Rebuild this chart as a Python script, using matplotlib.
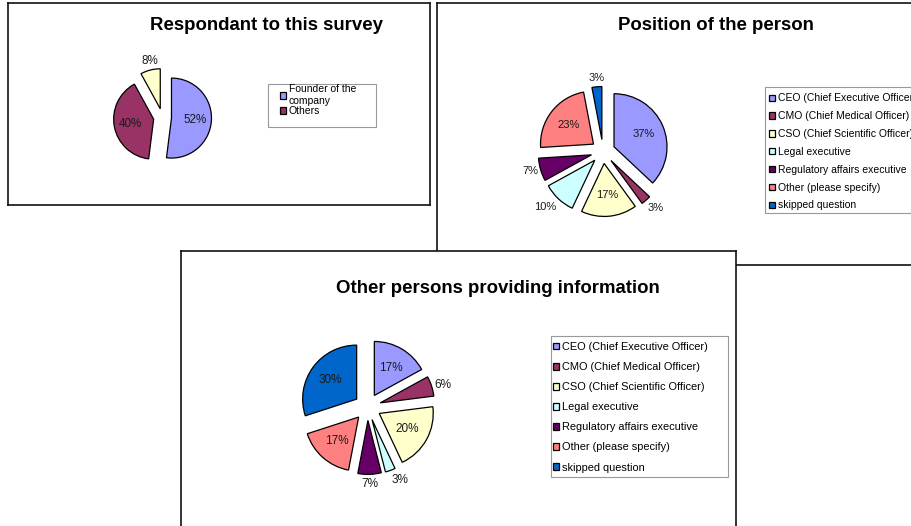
import numpy as np
import matplotlib
matplotlib.use("Agg")
import matplotlib.pyplot as plt
from matplotlib.patches import Rectangle

plt.rcParams['font.family'] = ['Liberation Sans', 'DejaVu Sans']

# ---- data ----
resp_values = [52, 40, 8]
resp_labels = ["Founder of the\ncompany", "Others"]
resp_colors = ["#9999FF", "#993366", "#FFFFCC"]

roles = ["CEO (Chief Executive Officer)", "CMO (Chief Medical Officer)",
         "CSO (Chief Scientific Officer)", "Legal executive",
         "Regulatory affairs executive", "Other (please specify)",
         "skipped question"]
role_colors = ["#9999FF", "#993366", "#FFFFCC", "#CCFFFF",
               "#660066", "#FF8080", "#0066CC"]
position_values = [37, 3, 17, 10, 7, 23, 3]
others_values = [17, 6, 20, 3, 7, 17, 30]

W, H = 912, 526
fig = plt.figure(figsize=(W / 100, H / 100), dpi=100)


def panel(x0, y0, x1, y1):
    # axes whose data units are figure pixels (y going up)
    ax = fig.add_axes([x0 / W, 1 - y1 / H, (x1 - x0) / W, (y1 - y0) / H])
    ax.set_facecolor("white")
    ax.set_xticks([])
    ax.set_yticks([])
    for s in ax.spines.values():
        s.set_linewidth(1.2)
        s.set_color("#111111")
    return ax, (x0, x1, H - y1, H - y0)


def draw_pie(ax, lims, values, colors, cx, cy, r, d, inside, fs):
    wedges, _ = ax.pie(values, colors=colors, startangle=90, counterclock=False,
                       center=(cx, H - cy), radius=r, explode=[d] * len(values),
                       frame=True,
                       wedgeprops=dict(edgecolor="black", linewidth=0.9))
    for w, v, inn in zip(wedges, values, inside):
        th = np.deg2rad((w.theta1 + w.theta2) / 2)
        c, s = np.cos(th), np.sin(th)
        x0, y0 = w.center
        if inn:
            ax.text(x0 + 0.6 * r * c, y0 + 0.6 * r * s, f"{v}%", fontsize=fs,
                    ha="center", va="center", color="#1a1a1a")
        else:
            ha = "left" if c > 0.3 else ("right" if c < -0.3 else "center")
            va = "bottom" if s > 0.5 else ("top" if s < -0.5 else "center")
            ax.text(x0 + 1.05 * r * c, y0 + 1.07 * r * s, f"{v}%", fontsize=fs,
                    ha=ha, va=va, color="#1a1a1a")
    ax.set_xlim(lims[0], lims[1])
    ax.set_ylim(lims[2], lims[3])
    ax.set_aspect("auto")
    ax.set_xticks([])
    ax.set_yticks([])
    ax.set_frame_on(True)
    return wedges


def legend_box(ax, x0, y0, x1, y1):
    ax.add_patch(Rectangle((x0, H - y1), x1 - x0, y1 - y0, fill=False,
                           edgecolor="#999999", linewidth=0.8, zorder=4))


def legend(ax, handles, labels, x, y, fs, spacing):
    ax.legend(handles, labels, loc="upper left",
              bbox_to_anchor=(x / W, 1 - y / H), bbox_transform=fig.transFigure,
              frameon=False, fontsize=fs, handlelength=0.55, handleheight=0.55,
              handletextpad=0.3, labelspacing=spacing, borderpad=0,
              borderaxespad=0)


# ---- panel 1 ----
ax1, l1 = panel(8, 3, 430, 205)
ax1.text(266.7, H - 25, "Respondant to this survey", fontsize=13.4,
         fontweight="bold", ha="center", va="center")
w1 = draw_pie(ax1, l1, resp_values, resp_colors, 162.5, 117.5, 40, 9,
              [True, True, False], 8.4)
legend_box(ax1, 268, 84, 376, 127)
legend(ax1, w1[:2], resp_labels, 280, 84.5, 7.5, 0.0)

# ---- panel 2 ----
ax2, l2 = panel(437, 3, 960, 265)
ax2.text(716, H - 26, "Position of the person", fontsize=13.4,
         fontweight="bold", ha="center", va="center")
w2 = draw_pie(ax2, l2, position_values, role_colors, 603, 151.5, 53, 12,
              [True, False, True, False, False, True, False], 8.0)
legend_box(ax2, 765, 87, 960, 213)
legend(ax2, w2, roles, 769, 93.5, 7.5, 0.75)

# ---- panel 3 ----
ax3, l3 = panel(181, 251, 736, 560)
ax3.text(498, H - 288.6, "Other persons providing information", fontsize=13.4,
         fontweight="bold", ha="center", va="center")
w3 = draw_pie(ax3, l3, others_values, role_colors, 367.5, 407, 54, 13.4,
              [True, False, True, False, False, True, True], 8.5)
legend_box(ax3, 551, 336, 728, 477)
legend(ax3, w3, roles, 553, 342, 7.9, 0.92)

fig.savefig("out.png", dpi=100)
